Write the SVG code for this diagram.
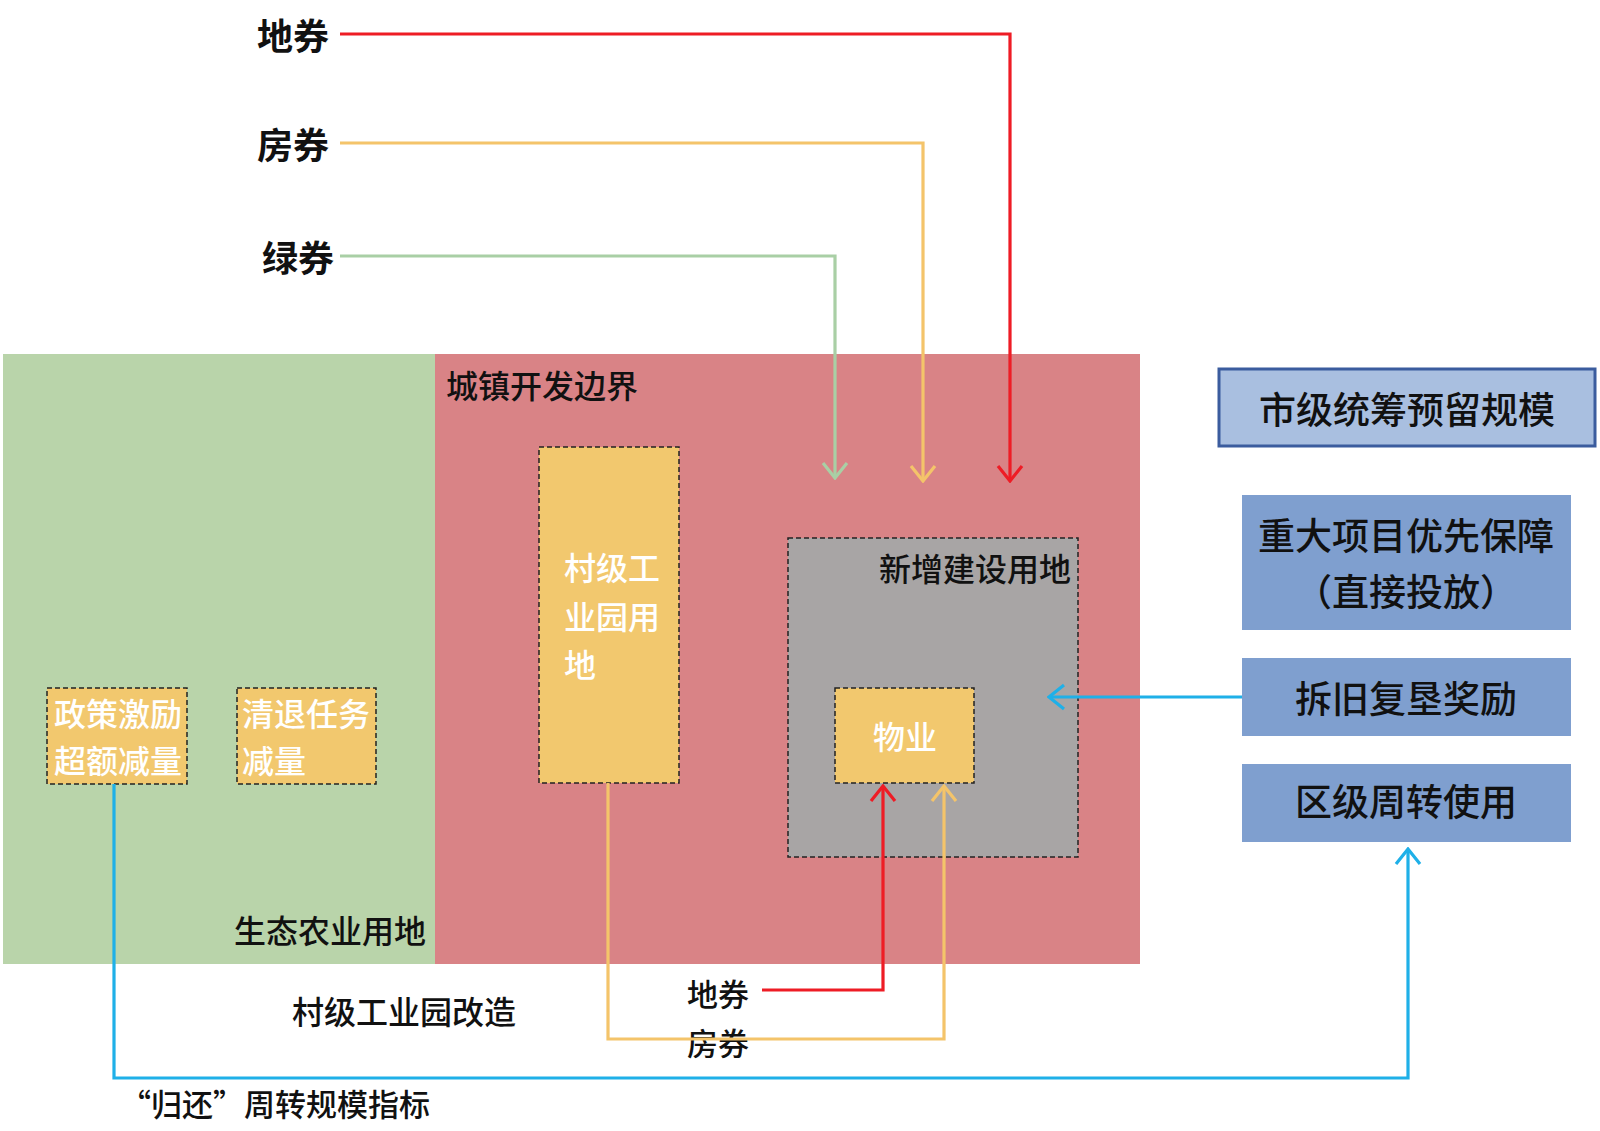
<svg xmlns="http://www.w3.org/2000/svg" width="1600" height="1131" viewBox="0 0 1600 1131">
<style>
text{font-family:"Noto Sans CJK SC","Liberation Sans",sans-serif;dominant-baseline:central;font-weight:500}
.k{fill:#111}
.w{fill:#fff}
.top{font-weight:700}
.dash{stroke:#222;stroke-width:1.5;stroke-dasharray:5 3}
.ln{fill:none;stroke-width:3.2}
</style>
<defs>
<marker id="aR" viewBox="-18 -15 20 30" markerWidth="20" markerHeight="30" refX="0" refY="0" orient="auto" markerUnits="userSpaceOnUse"><path d="M-15,-12 L0,0 L-15,12" fill="none" stroke="#ee1c25" stroke-width="3.2"/></marker>
<marker id="aY" viewBox="-18 -15 20 30" markerWidth="20" markerHeight="30" refX="0" refY="0" orient="auto" markerUnits="userSpaceOnUse"><path d="M-15,-12 L0,0 L-15,12" fill="none" stroke="#f4c46a" stroke-width="3.2"/></marker>
<marker id="aG" viewBox="-18 -15 20 30" markerWidth="20" markerHeight="30" refX="0" refY="0" orient="auto" markerUnits="userSpaceOnUse"><path d="M-15,-12 L0,0 L-15,12" fill="none" stroke="#a9cfa5" stroke-width="3.2"/></marker>
<marker id="aB" viewBox="-18 -15 20 30" markerWidth="20" markerHeight="30" refX="0" refY="0" orient="auto" markerUnits="userSpaceOnUse"><path d="M-15,-12 L0,0 L-15,12" fill="none" stroke="#1fb0e8" stroke-width="3.2"/></marker>
</defs>
<rect width="1600" height="1131" fill="#fff"/>
<g id="eco-zone">
<rect x="3" y="354" width="432" height="610" fill="#b9d4aa"/>
<text class="k" x="426" y="929" font-size="32" text-anchor="end">生态农业用地</text>
</g>
<g id="urban-zone">
<rect x="435" y="354" width="705" height="610" fill="#d98386"/>
<text class="k" x="446" y="384" font-size="32">城镇开发边界</text>
</g>
<g id="new-land">
<rect x="788" y="538" width="290" height="319" fill="#a8a5a5" class="dash"/>
<text class="k" x="1071" y="567" font-size="32" text-anchor="end">新增建设用地</text>
</g>
<g id="village-park">
<rect x="539" y="447" width="140" height="336" fill="#f2c86e" class="dash"/>
<text class="w" x="564" y="566" font-size="32">村级工</text>
<text class="w" x="564" y="615" font-size="32">业园用</text>
<text class="w" x="564" y="663" font-size="32">地</text>
</g>
<g id="property">
<rect x="835" y="688" width="139" height="95" fill="#f2c86e" class="dash"/>
<text class="w" x="905" y="735" font-size="32" text-anchor="middle">物业</text>
</g>
<g id="policy">
<rect x="47" y="688" width="140" height="96" fill="#f2c86e" class="dash"/>
<text class="w" x="54" y="712" font-size="32">政策激励</text>
<text class="w" x="54" y="759" font-size="32">超额减量</text>
</g>
<g id="clear">
<rect x="237" y="688" width="139" height="96" fill="#f2c86e" class="dash"/>
<text class="w" x="242" y="712" font-size="32">清退任务</text>
<text class="w" x="242" y="759" font-size="32">减量</text>
</g>
<g id="city-reserve">
<rect x="1219" y="369" width="376" height="77" fill="#a9bfe0" stroke="#3b5c9e" stroke-width="3"/>
<text class="k" x="1407" y="408" font-size="37" text-anchor="middle">市级统筹预留规模</text>
</g>
<g id="major-project">
<rect x="1242" y="495" width="329" height="135" fill="#7f9fcf"/>
<text class="k" x="1406" y="534" font-size="37" text-anchor="middle">重大项目优先保障</text>
<text class="k" x="1406" y="590" font-size="37" text-anchor="middle">（直接投放）</text>
</g>
<g id="demolish-reward">
<rect x="1242" y="658" width="329" height="78" fill="#7f9fcf"/>
<text class="k" x="1406" y="697" font-size="37" text-anchor="middle">拆旧复垦奖励</text>
</g>
<g id="district-use">
<rect x="1242" y="764" width="329" height="78" fill="#7f9fcf"/>
<text class="k" x="1406" y="800" font-size="37" text-anchor="middle">区级周转使用</text>
</g>
<g id="labels">
<text class="k top" x="257" y="34" font-size="36">地券</text>
<text class="k top" x="257" y="143" font-size="36">房券</text>
<text class="k top" x="262" y="256" font-size="36">绿券</text>
<text class="k" x="687" y="992" font-size="31">地券</text>
<text class="k" x="687" y="1041" font-size="31">房券</text>
<text class="k" x="404" y="1010" font-size="32" text-anchor="middle">村级工业园改造</text>
<text class="k" x="120" y="1102" font-size="31">“归还”周转规模指标</text>
</g>
<g id="connectors">
<path class="ln" d="M340,34 H1010 V481" stroke="#ee1c25" marker-end="url(#aR)"/>
<path class="ln" d="M340,143 H923 V481" stroke="#f4c46a" marker-end="url(#aY)"/>
<path class="ln" d="M340,256 H835 V478" stroke="#a9cfa5" marker-end="url(#aG)"/>
<path class="ln" d="M1242,697 H1049" stroke="#1fb0e8" marker-end="url(#aB)"/>
<path class="ln" d="M762,990 H883 V786" stroke="#ee1c25" marker-end="url(#aR)"/>
<path class="ln" d="M608,783 V1039 H944 V786" stroke="#f4c46a" marker-end="url(#aY)"/>
<path class="ln" d="M114,784 V1078 H1408 V849" stroke="#1fb0e8" marker-end="url(#aB)"/>
</g>
</svg>
